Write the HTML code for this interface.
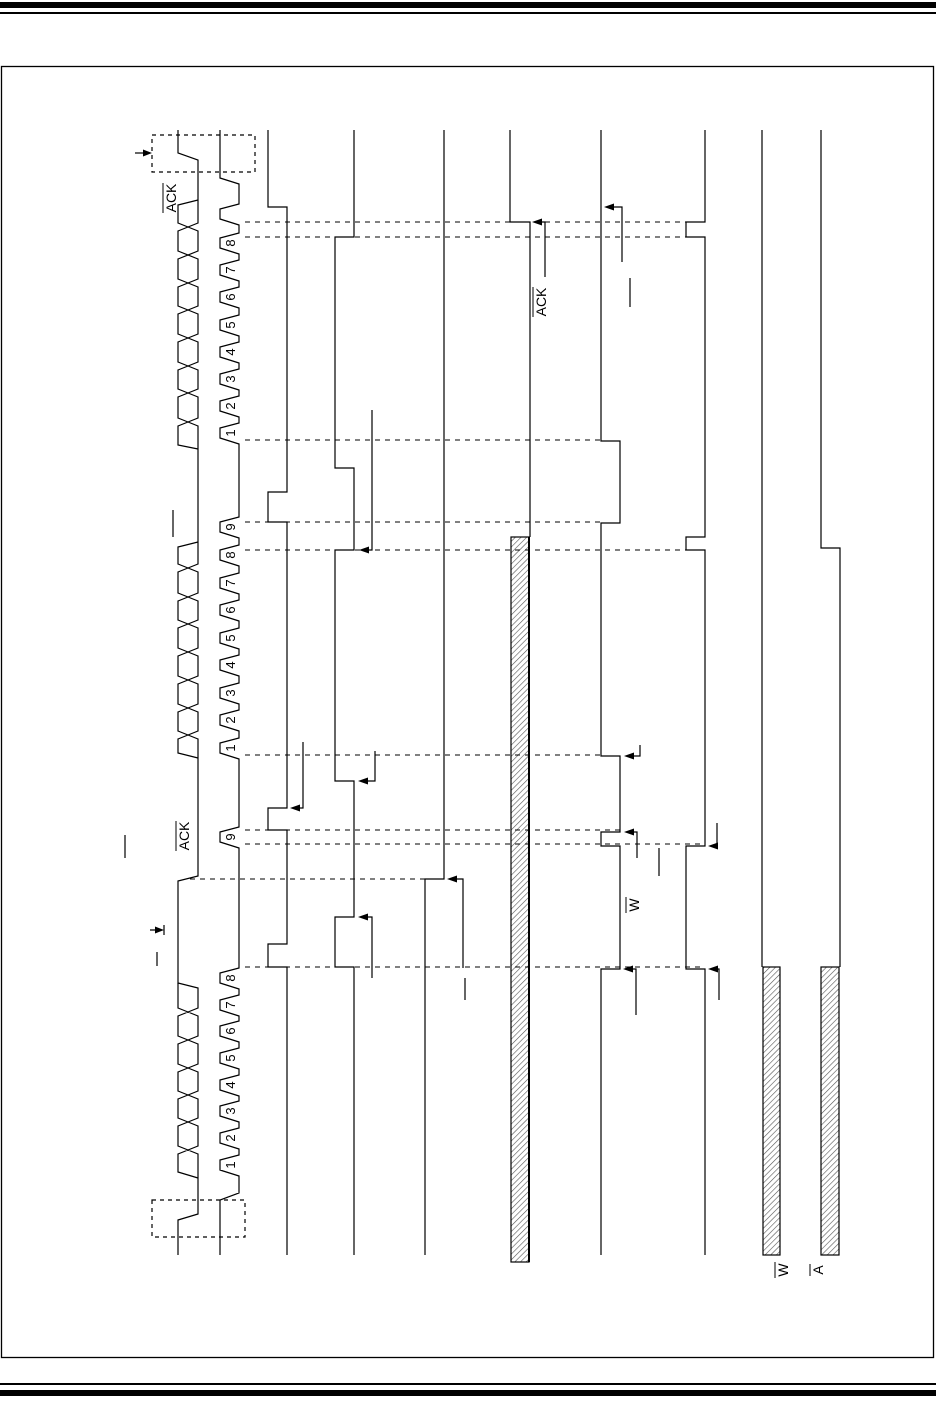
<!DOCTYPE html>
<html><head><meta charset="utf-8"><style>
html,body{margin:0;padding:0;background:#fff}
svg{display:block}
text{font-family:"Liberation Sans",sans-serif;fill:#000}
</style></head><body>
<svg width="936" height="1412" viewBox="0 0 936 1412" xmlns="http://www.w3.org/2000/svg">
<defs>
<pattern id="h" patternUnits="userSpaceOnUse" width="4" height="4" patternTransform="rotate(45)">
<rect width="4" height="4" fill="#fff"/><line x1="0" y1="0" x2="0" y2="4" stroke="#555" stroke-width="1.2"/>
</pattern>
</defs>
<rect x="0" y="2" width="936" height="6" fill="#000"/>
<rect x="0" y="12" width="936" height="2" fill="#000"/>
<rect x="0" y="1383" width="936" height="2" fill="#000"/>
<rect x="0" y="1390" width="936" height="6" fill="#000"/>
<rect x="1.5" y="66.5" width="932" height="1291" fill="none" stroke="#000" stroke-width="1.3"/>

<g fill="none" stroke="#000" stroke-width="1.2">
<rect x="152" y="135" width="103" height="37" stroke-dasharray="4 4"/>
<rect x="152" y="1200" width="93" height="37" stroke-dasharray="4 4"/>
<!-- SDA rails -->
<path d="M178 1255 V1220 L198 1214 V988 L178 983 V881 L198 876 V160 L178 153 V130"/>
<path d="M198 1178 L178 1172 V983"/>
<path d="M198 758 L178 753 V547 L198 542"/>
<path d="M198 449 L178 445 V205 L198 200"/>
</g>
<!-- break rails at crossings -->
<g fill="#fff">
<rect x="176" y="1146.5" width="24" height="7"/><rect x="176" y="1118.5" width="24" height="7"/><rect x="176" y="1091.5" width="24" height="7"/><rect x="176" y="1064.5" width="24" height="7"/><rect x="176" y="1036.5" width="24" height="7"/><rect x="176" y="1008.5" width="24" height="7"/>
<rect x="176" y="731.5" width="24" height="7"/><rect x="176" y="704.5" width="24" height="7"/><rect x="176" y="676.5" width="24" height="7"/><rect x="176" y="648.5" width="24" height="7"/><rect x="176" y="620.5" width="24" height="7"/><rect x="176" y="593.5" width="24" height="7"/><rect x="176" y="564.5" width="24" height="7"/>
<rect x="176" y="418.5" width="24" height="7"/><rect x="176" y="389.5" width="24" height="7"/><rect x="176" y="362.5" width="24" height="7"/><rect x="176" y="334.5" width="24" height="7"/><rect x="176" y="306.5" width="24" height="7"/><rect x="176" y="279.5" width="24" height="7"/><rect x="176" y="251.5" width="24" height="7"/><rect x="176" y="223.5" width="24" height="7"/>
</g>
<g fill="none" stroke="#000" stroke-width="1.2">
<path d="M178 1154 L198 1146 M198 1154 L178 1146 M178 1126 L198 1118 M198 1126 L178 1118 M178 1099 L198 1091 M198 1099 L178 1091 M178 1072 L198 1064 M198 1072 L178 1064 M178 1044 L198 1036 M198 1044 L178 1036 M178 1016 L198 1008 M198 1016 L178 1008"/>
<path d="M178 739 L198 731 M198 739 L178 731 M178 712 L198 704 M198 712 L178 704 M178 684 L198 676 M198 684 L178 676 M178 656 L198 648 M198 656 L178 648 M178 628 L198 620 M198 628 L178 620 M178 601 L198 593 M198 601 L178 593 M178 572 L198 564 M198 572 L178 564"/>
<path d="M178 426 L198 418 M198 426 L178 418 M178 397 L198 389 M198 397 L178 389 M178 370 L198 362 M198 370 L178 362 M178 342 L198 334 M198 342 L178 334 M178 314 L198 306 M198 314 L178 306 M178 287 L198 279 M198 287 L178 279 M178 259 L198 251 M198 259 L178 251 M178 231 L198 223 M198 231 L178 223"/>
<!-- SCL -->
<path d="M220 1255 V1200 L239 1193
V1176 L220 1170 V1160 L239 1155
V1149 L220 1143 V1133 L239 1128
V1122 L220 1116 V1106 L239 1101
V1096 L220 1090 V1080 L239 1075
V1069 L220 1063 V1053 L239 1048
V1042 L220 1036 V1026 L239 1021
V1016 L220 1010 V1000 L239 995
V989 L220 983 V973 L239 968
V848 L220 842 V832 L239 827
V759 L220 753 V743 L239 738
V731 L220 725 V715 L239 710
V704 L220 698 V688 L239 683
V676 L220 670 V660 L239 655
V649 L220 643 V633 L239 628
V621 L220 615 V605 L239 600
V594 L220 588 V578 L239 573
V566 L220 560 V550 L239 545
V538 L220 532 V522 L239 517
V444 L220 438 V428 L239 423
V417 L220 411 V401 L239 396
V390 L220 384 V374 L239 369
V363 L220 357 V347 L239 342
V336 L220 330 V320 L239 315
V308 L220 302 V292 L239 287
V281 L220 275 V265 L239 260
V254 L220 248 V238 L239 233
V225 L220 219 V209 L239 204
V184 L220 178 V130"/>
<path d="M287 1255 V967 H268 V944 H287 V830 H268 V808 H287 V522 H268 V492 H287 V207 H268 V130"/>
<path d="M354 1255 V967 H335 V917 H354 V781 H335 V550 H354 V468 H335 V237 H354 V130"/>
<path d="M425 1255 V879 H444 V130"/>
<path d="M510 130 V222 H530 V537"/>
<path d="M601 130 V441 H620 V523 H601 V756 H620 V832 H601 V846 H620 V969 H601 V1255"/>
<path d="M705 130 V222 H686 V237 H705 V537 H686 V550 H705 V846 H686 V969 H705 V1255"/>
<path d="M762 130 V967"/>
<path d="M821 130 V548 H840 V967"/>
</g>
<rect x="511" y="537" width="18" height="725" fill="url(#h)" stroke="#000" stroke-width="1.2"/>
<line x1="529" y1="537" x2="529" y2="1262" stroke="#000" stroke-width="2"/>
<rect x="763" y="967" width="17" height="288" fill="url(#h)" stroke="#000" stroke-width="1.2"/>
<rect x="821" y="967" width="18" height="288" fill="url(#h)" stroke="#000" stroke-width="1.2"/>

<g stroke="#000" stroke-width="1" stroke-dasharray="5 5">
<line x1="245" y1="967" x2="705" y2="967"/>
<line x1="190" y1="879" x2="425" y2="879"/>
<line x1="245" y1="844" x2="705" y2="844"/>
<line x1="245" y1="830" x2="620" y2="830"/>
<line x1="245" y1="755" x2="601" y2="755"/>
<line x1="245" y1="550" x2="686" y2="550"/>
<line x1="245" y1="522" x2="601" y2="522"/>
<line x1="245" y1="440" x2="601" y2="440"/>
<line x1="245" y1="237" x2="686" y2="237"/>
<line x1="245" y1="222" x2="686" y2="222"/>
</g>

<g stroke="#000" stroke-width="1.2" fill="none">
<path d="M303 742 V808 H296"/>
<path d="M375 751 V781 H366"/>
<path d="M372 978 V917 H366"/>
<path d="M372 410 V550 H366"/>
<path d="M463 968 V879 H455"/>
<path d="M465 978 V1000"/>
<path d="M545 277 V222 H538"/>
<path d="M622 262 V207 H612"/>
<path d="M630 278 V307"/>
<path d="M640 745 V756 H632"/>
<path d="M637 858 V832 H630"/>
<path d="M659 848 V876"/>
<path d="M636 1015 V969 H630"/>
<path d="M717 823 V846 H714"/>
<path d="M719 1000 V969 H714"/>
<path d="M135 153 H146"/>
<path d="M150 930 H158 M164 925 V935"/>
<path d="M157 952 V966"/>
<path d="M125 835 V858"/>
<path d="M173 510 V537"/>
</g>
<g fill="#000">
<polygon points="290,808 300,804.5 300,811.5"/>
<polygon points="358,781 368,777.5 368,784.5"/>
<polygon points="358,917 368,913.5 368,920.5"/>
<polygon points="359,550 369,546.5 369,553.5"/>
<polygon points="447,879 457,875.5 457,882.5"/>
<polygon points="532,222 542,218.5 542,225.5"/>
<polygon points="604,207 614,203.5 614,210.5"/>
<polygon points="624,756 634,752.5 634,759.5"/>
<polygon points="624,832 634,828.5 634,835.5"/>
<polygon points="623,969 633,965.5 633,972.5"/>
<polygon points="708,846 718,842.5 718,849.5"/>
<polygon points="708,969 718,965.5 718,972.5"/>
<polygon points="152,153 143,149.5 143,156.5"/>
<polygon points="164,930 155,926.5 155,933.5"/>
</g>

<g font-size="13" text-anchor="middle">
<text transform="translate(235,1165) rotate(-90)">1</text>
<text transform="translate(235,1138) rotate(-90)">2</text>
<text transform="translate(235,1111) rotate(-90)">3</text>
<text transform="translate(235,1085) rotate(-90)">4</text>
<text transform="translate(235,1058) rotate(-90)">5</text>
<text transform="translate(235,1031) rotate(-90)">6</text>
<text transform="translate(235,1005) rotate(-90)">7</text>
<text transform="translate(235,978) rotate(-90)">8</text>
<text transform="translate(235,837) rotate(-90)">9</text>
<text transform="translate(235,748) rotate(-90)">1</text>
<text transform="translate(235,720) rotate(-90)">2</text>
<text transform="translate(235,693) rotate(-90)">3</text>
<text transform="translate(235,665) rotate(-90)">4</text>
<text transform="translate(235,638) rotate(-90)">5</text>
<text transform="translate(235,610) rotate(-90)">6</text>
<text transform="translate(235,583) rotate(-90)">7</text>
<text transform="translate(235,555) rotate(-90)">8</text>
<text transform="translate(235,527) rotate(-90)">9</text>
<text transform="translate(235,433) rotate(-90)">1</text>
<text transform="translate(235,406) rotate(-90)">2</text>
<text transform="translate(235,379) rotate(-90)">3</text>
<text transform="translate(235,352) rotate(-90)">4</text>
<text transform="translate(235,325) rotate(-90)">5</text>
<text transform="translate(235,297) rotate(-90)">6</text>
<text transform="translate(235,270) rotate(-90)">7</text>
<text transform="translate(235,243) rotate(-90)">8</text>
</g>
<g font-size="14" text-anchor="middle">
<text transform="translate(176,198) rotate(-90)">ACK</text>
<text transform="translate(189,836) rotate(-90)">ACK</text>
<text transform="translate(546,302) rotate(-90)">ACK</text>
<text transform="translate(639,905) rotate(-90)">W</text>
<text transform="translate(788,1270) rotate(-90)">W</text>
<text transform="translate(823,1270) rotate(-90)">A</text>
</g>
<g stroke="#000" stroke-width="1">
<line x1="163" y1="183" x2="163" y2="213"/>
<line x1="176" y1="821" x2="176" y2="851"/>
<line x1="533" y1="287" x2="533" y2="317"/>
<line x1="626" y1="897" x2="626" y2="913"/>
<line x1="775" y1="1262" x2="775" y2="1278"/>
<line x1="810" y1="1264" x2="810" y2="1276"/>
</g>
</svg>
</body></html>
